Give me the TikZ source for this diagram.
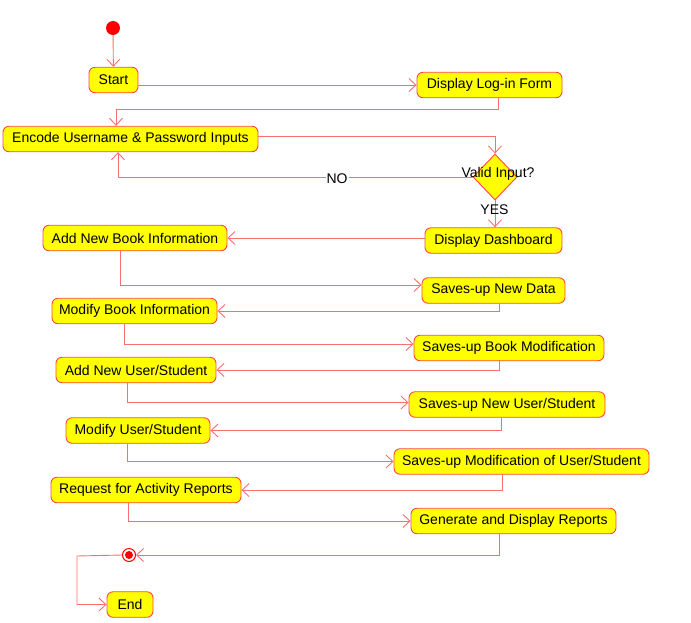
\documentclass[tikz,border=0pt]{standalone}
\usepackage{fontspec}
\setmainfont{Liberation Sans}
\usetikzlibrary{shapes.geometric,arrows.meta,calc}
\definecolor{ln}{RGB}{255,110,110}
\definecolor{bd}{RGB}{255,70,70}
\definecolor{yl}{RGB}{255,255,0}
\definecolor{rd}{RGB}{255,0,0}
\begin{document}
\begin{tikzpicture}[x=1pt,y=-1pt,
 act/.style={draw=bd, fill=yl, rounded corners=6pt, line width=0.9pt, inner sep=0pt, minimum height=25.5pt, font=\fontsize{14}{16}\selectfont},
 arr/.style={draw=ln, line width=0.9pt, -{Straight Barb[length=7pt,width=13pt]}},
 lbl/.style={font=\fontsize{14}{16}\selectfont, inner sep=1pt}]
\useasboundingbox (0,0) rectangle (691,622);
% initial
\node[circle, fill=rd, minimum size=14pt, inner sep=0pt] (init) at (113,28) {};
\node[act, minimum width=49pt] (start) at (113.5,80) {Start};
\node[act, minimum width=145pt] (login) at (489.5,85) {Display Log-in Form};
\node[act, minimum width=255pt] (encode) at (130.5,139) {Encode Username \& Password Inputs};
\node[diamond, draw=bd, fill=yl, line width=0.9pt, minimum width=44pt, minimum height=46pt, inner sep=0pt] (dia) at (495,177) {};
\node[lbl] (valid) at (498,174) {Valid Input?};
\node[act, minimum width=137pt] (dash) at (493.5,240.5) {Display Dashboard};
\node[act, minimum width=184pt] (addbook) at (135,238) {Add New Book Information};
\node[act, minimum width=143pt] (savenew) at (493.5,290.5) {Saves-up New Data};
\node[act, minimum width=165pt] (modbook) at (134.5,311) {Modify Book Information};
\node[act, minimum width=190pt] (savebm) at (509,348) {Saves-up Book Modification};
\node[act, minimum width=160pt] (addusr) at (136,370) {Add New User/Student};
\node[act, minimum width=196pt] (savenu) at (507,404.5) {Saves-up New User/Student};
\node[act, minimum width=144pt] (modusr) at (138,430.5) {Modify User/Student};
\node[act, minimum width=255pt] (savemu) at (521.5,461.5) {Saves-up Modification of User/Student};
\node[act, minimum width=190pt] (req) at (146,490) {Request for Activity Reports};
\node[act, minimum width=205pt] (gen) at (513.5,521) {Generate and Display Reports};
\node[circle, draw=rd, fill=white, line width=1pt, minimum size=13pt, inner sep=0pt] (fin) at (129,555) {};
\node[circle, fill=rd, minimum size=8pt, inner sep=0pt] at (fin) {};
\node[act, minimum width=46pt] (end) at (130,604.5) {End};
% connectors
\draw[arr] (init) -- (start);
\draw[arr] (start.east |- login.west) -- (login.west);
\draw[arr] ([xshift=8.5pt]login.south) -- ++(0,11) -| ([xshift=-14.5pt]encode.north);
\draw[arr] ([yshift=3pt]encode.east) -| (dia.north);
\draw[arr] (dia.west) -| ([xshift=-12.5pt]encode.south);
\node[lbl, fill=white] (no) at (337,179) {NO};
\draw[arr] (dia.south) -- (dia.south |- dash.north);
\node[lbl] (yes) at (494.5,210) {YES};
\draw[arr] (dash.west |- addbook.east) -- (addbook.east);
\draw[arr] ([xshift=-15pt]addbook.south) |- ([yshift=5.5pt]savenew.west);
\draw[arr] ([xshift=5.5pt]savenew.south) |- (modbook.east);
\draw[arr] ([xshift=-10.5pt]modbook.south) |- ([yshift=4pt]savebm.west);
\draw[arr] ([xshift=-10pt]savebm.south) |- (addusr.east);
\draw[arr] ([xshift=-9pt]addusr.south) |- ([yshift=2pt]savenu.west);
\draw[arr] ([xshift=-6pt]savenu.south) |- (modusr.east);
\draw[arr] ([xshift=-11pt]modusr.south) |- (savemu.west);
\draw[arr] ([xshift=-19.5pt]savemu.south) |- (req.east);
\draw[arr] ([xshift=-18pt]req.south) |- (gen.west);
\draw[arr] ([xshift=-14.5pt]gen.south) |- (fin.east);
\draw[arr] (fin.west) -- ++(-45,1) |- (end.west);
\end{tikzpicture}
\end{document}
